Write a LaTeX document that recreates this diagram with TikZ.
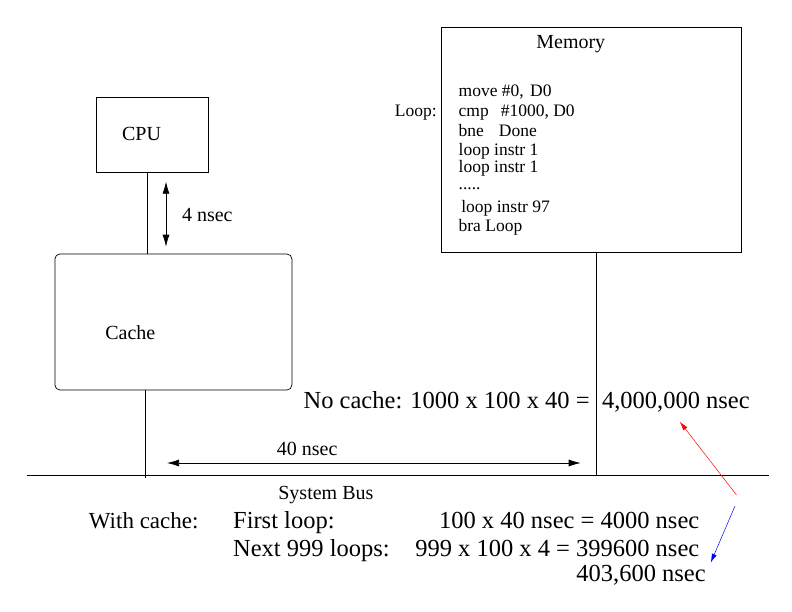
\documentclass[tikz,border=0pt]{standalone}
\usepackage{fontspec}
\setmainfont{Liberation Serif}
\usepackage{tikz}
\usetikzlibrary{arrows.meta,positioning}

\begin{document}
\begin{tikzpicture}[x=1pt,y=-1pt,>={Latex[length=12pt,width=7pt]},line width=0.7pt]
\tikzstyle{box}=[rectangle,draw=black,inner sep=0pt]
\tikzstyle{lbl}=[inner sep=0pt,anchor=base west,font=\fontsize{20}{24}\selectfont]
\tikzstyle{code}=[inner sep=0pt,anchor=base west,font=\fontsize{17.5}{20}\selectfont]
\tikzstyle{big}=[inner sep=0pt,anchor=base west,font=\fontsize{24.5}{29}\selectfont]
\tikzstyle{note}=[->,>={Latex[length=9pt,width=5pt]},line width=0.5pt]
\useasboundingbox (0,0) rectangle (792,612);
% boxes
\node[box,minimum width=112pt,minimum height=75.5pt] (cpu) at (152,135) {};
\node[box,rounded corners=5pt,minimum width=237pt,minimum height=136pt] (cache) at (173.4,322) {};
\node[box,minimum width=300pt,minimum height=225pt] (mem) at (591.7,139.5) {};
\node[lbl] (cpulbl) at (121.7,140.7) {CPU};
\node[lbl] (cachelbl) at (105,339) {Cache};
\node[lbl] (memlbl) at (536,49) {Memory};
% program listing
\node[code] (l0) at (458.3,96.7) {move \#0,\hspace{2pt} D0};
\node[code] (l1) at (458.3,117) {cmp\hspace{12pt}\#1000, D0};
\node[code,anchor=base east] (loop) at (437,117) {Loop:};
\node[code] (l2) at (458.3,136.7) {bne\hspace{15pt}Done};
\node[code] (l3) at (458.3,155.5) {loop instr 1};
\node[code] (l4) at (458.3,172.5) {loop instr 1};
\node[code] (l5) at (458.3,190) {.....};
\node[code] (l6) at (461,213) {loop instr 97};
\node[code] (l7) at (458.3,231.7) {bra Loop};
% bus and links
\coordinate (busl) at (27,475);
\coordinate (busr) at (769,475);
\draw (busl) -- (busr);
\coordinate (c1) at (147.3,0);
\draw (cpu.south -| c1) -- (cache.north -| c1);
\coordinate (c2) at (145,478);
\draw (cache.south -| c2) -- (c2);
\coordinate (c3) at (596,475);
\draw (mem.south -| c3) -- (c3);
\node[lbl] (buslbl) at (278,499) {System Bus};
% timings
\coordinate (a1) at (166,181.7);
\coordinate (a2) at (166,246.7);
\draw[<->] (a1) -- (a2);
\node[lbl] (t4) at (181.7,221.7) {4 nsec};
\coordinate (b1) at (167,463);
\coordinate (b2) at (580.7,463);
\draw[<->] (b1) -- (b2);
\node[lbl] (t40) at (276.6,455) {40 nsec};
% totals
\node[big,anchor=base east] (nocache) at (590,408) {No cache: 1000 x 100 x 40 =};
\node[big] (nocachev) at (601.7,408) {4,000,000 nsec};
\node[big,font=\fontsize{23}{28}\selectfont] (withc) at (88.6,528) {With cache:};
\node[big] (first) at (232.8,528) {First loop:};
\node[big,anchor=base east] (firstv) at (699.6,528) {100 x 40 nsec = 4000 nsec};
\node[big] (next) at (232.8,556.7) {Next 999 loops:};
\node[big,anchor=base east] (nextv) at (699.6,556.7) {999 x 100 x 4 = 399600 nsec};
\node[big,anchor=base east] (sum) at (706,581.7) {403,600 nsec};
\coordinate (r1) at (736.5,495);
\coordinate (r2) at (679.8,421.7);
\draw[note,red] (r1) -- (r2);
\coordinate (s1) at (735,506);
\coordinate (s2) at (710.7,562.7);
\draw[note,blue] (s1) -- (s2);
\end{tikzpicture}
\end{document}
